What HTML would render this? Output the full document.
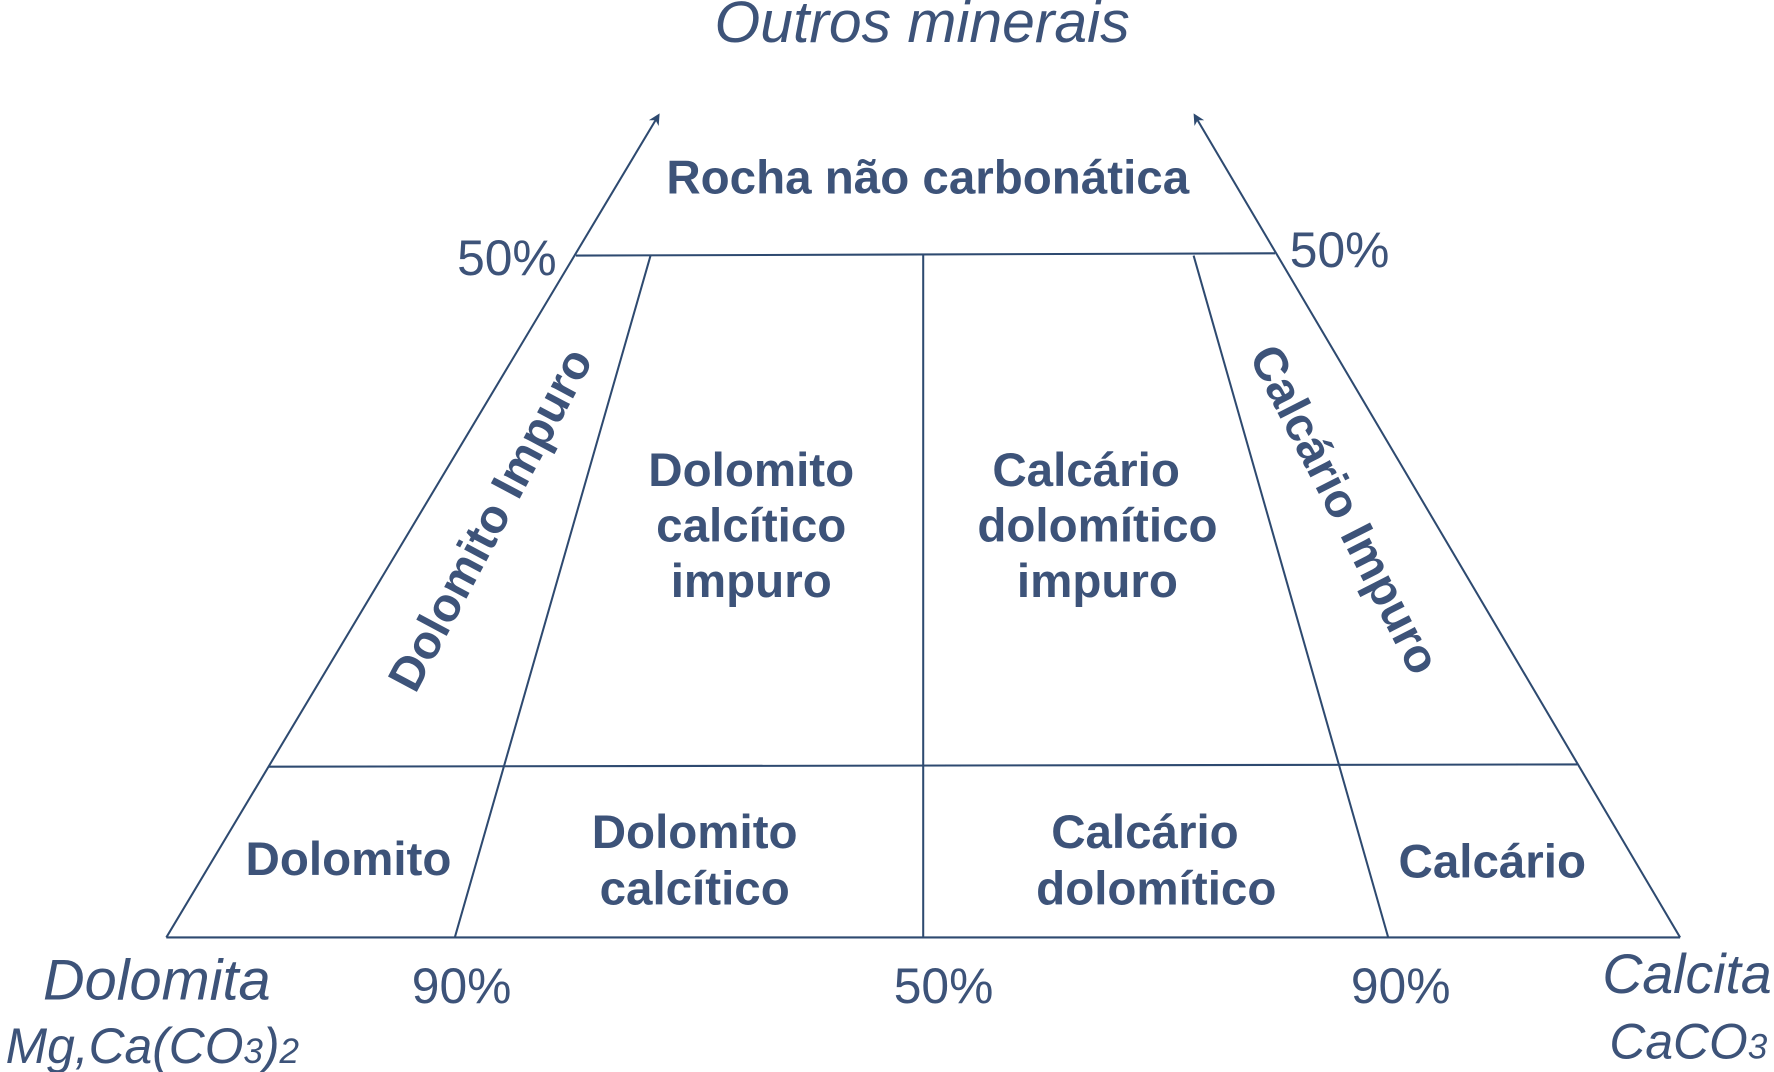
<!DOCTYPE html>
<html><head><meta charset="utf-8"><style>
html,body{margin:0;padding:0;background:#fff;width:1774px;height:1072px;overflow:hidden}
svg{display:block}
text{font-family:"Liberation Sans",Arial,sans-serif;fill:#3d5379}
.b{font-weight:bold;font-size:42px}
.i{font-style:italic}
</style></head><body>
<svg width="1774" height="1072" viewBox="0 0 1568 948" preserveAspectRatio="none">
<defs><marker id="a" markerWidth="10" markerHeight="10" refX="8" refY="5" orient="auto" markerUnits="userSpaceOnUse"><path d="M0,0 L10,5 L0,10 L3,5 Z" fill="#2e4a70"/></marker></defs>
<g stroke="#2e4a70" stroke-width="1.8" fill="none">
<line x1="147" y1="829" x2="582" y2="102" marker-end="url(#a)"/>
<line x1="1485" y1="829" x2="1056" y2="102" marker-end="url(#a)"/>
<line x1="147" y1="829" x2="1485" y2="829"/>
<line x1="509" y1="226" x2="1127" y2="224"/>
<line x1="237" y1="678" x2="1394" y2="676"/>
<line x1="575" y1="226" x2="402" y2="829"/>
<line x1="816" y1="226" x2="816" y2="829"/>
<line x1="1055" y1="226" x2="1227" y2="829"/>
</g>
<text x="815" y="37" text-anchor="middle" class="i" font-size="52">Outros minerais</text>
<text x="820" y="171" text-anchor="middle" class="b">Rocha não carbonática</text>
<text x="404" y="243" font-size="44">50%</text>
<text x="1140" y="236" font-size="44">50%</text>
<text class="b" text-anchor="middle" transform="translate(446,466) rotate(-62)">Dolomito Impuro</text>
<text class="b" text-anchor="middle" transform="translate(1176,457) rotate(63)">Calcário Impuro</text>
<g text-anchor="middle">
<text x="664" y="430" class="b">Dolomito</text>
<text x="664" y="479" class="b">calcítico</text>
<text x="664" y="528" class="b">impuro</text>
<text x="960" y="430" class="b">Calcário</text>
<text x="970" y="479" class="b">dolomítico</text>
<text x="970" y="528" class="b">impuro</text>
<text x="308" y="774" class="b">Dolomito</text>
<text x="614" y="750" class="b">Dolomito</text>
<text x="614" y="800" class="b">calcítico</text>
<text x="1012" y="750" class="b">Calcário</text>
<text x="1022" y="800" class="b">dolomítico</text>
<text x="1319" y="776" class="b">Calcário</text>
</g>
<text x="408" y="887" text-anchor="middle" font-size="44">90%</text>
<text x="834" y="887" text-anchor="middle" font-size="44">50%</text>
<text x="1238" y="887" text-anchor="middle" font-size="44">90%</text>
<text x="38" y="884" class="i" font-size="51">Dolomita</text>
<text x="5" y="940" class="i" font-size="44">Mg,Ca(CO<tspan font-size="31">3</tspan>)<tspan font-size="31">2</tspan></text>
<text x="1566" y="878" text-anchor="end" class="i" font-size="49">Calcita</text>
<text x="1562" y="936" text-anchor="end" class="i" font-size="44">CaCO<tspan font-size="31">3</tspan></text>
</svg>
</body></html>
